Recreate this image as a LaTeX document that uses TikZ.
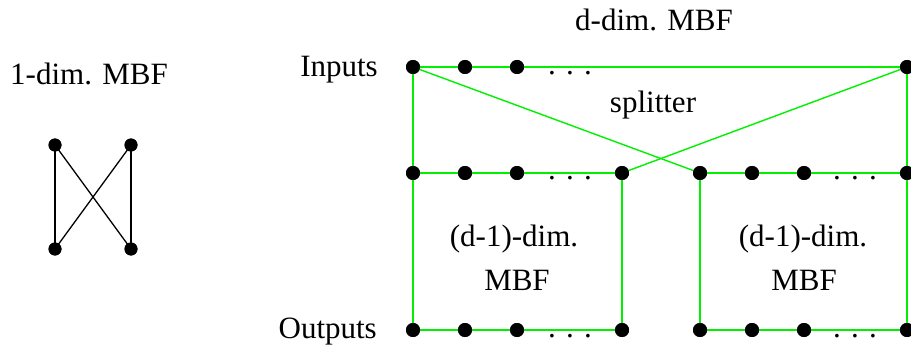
\documentclass[tikz,border=0pt]{standalone}
\usepackage{fontspec}
\setmainfont{Liberation Serif}
\begin{document}
\begin{tikzpicture}[x=1pt,y=-1pt,
  dot/.style={circle,fill=black,inner sep=0pt,minimum size=14pt},
  sdot/.style={circle,fill=black,inner sep=0pt,minimum size=13pt},
  lbl/.style={inner sep=0pt,anchor=base,font=\fontsize{31}{37}\selectfont},
  ell/.style={inner sep=0pt,anchor=base,font=\fontsize{31}{37}\selectfont},
  gline/.style={draw={rgb,255:red,0;green,240;blue,0},line width=1.4pt},
  bline/.style={draw=black,line width=1.3pt}]
\useasboundingbox (0,0) rectangle (911,350);
% 1-dim MBF
\node[lbl] (t1) at (89,85) {1-dim. MBF};
\node[sdot] (a1) at (55,145) {};
\node[sdot] (a2) at (131,145) {};
\node[sdot] (b1) at (55,249) {};
\node[sdot] (b2) at (131,249) {};
\draw[bline] (a1.center) -- (b1.center);
\draw[bline] (a2.center) -- (b2.center);
\draw[bline] (a1.center) -- (b2.center);
\draw[bline] (a2.center) -- (b1.center);
% d-dim MBF
\node[lbl] (td) at (654,31) {d-dim. MBF};
\node[lbl,anchor=base east] (inp) at (378,77) {Inputs};
\node[lbl,anchor=base east] (outp) at (377,338) {Outputs};
\node[lbl] (spl) at (653,113) {splitter};
\node[lbl] (l1) at (514,246) {(d-1)-dim.};
\node[lbl] (l2) at (517,290) {MBF};
\node[lbl] (r1) at (803,246) {(d-1)-dim.};
\node[lbl] (r2) at (804,290) {MBF};
% top row
\node[dot] (i1) at (413,67) {};
\node[dot] (i2) at (465,67) {};
\node[dot] (i3) at (517,67) {};
\node[dot] (i4) at (907,67) {};
% middle row
\node[dot] (m1) at (413,173) {};
\node[dot] (m2) at (465,173) {};
\node[dot] (m3) at (517,173) {};
\node[dot] (m4) at (622,173) {};
\node[dot] (n1) at (700,173) {};
\node[dot] (n2) at (752,173) {};
\node[dot] (n3) at (804,173) {};
\node[dot] (n4) at (907,173) {};
% bottom row
\node[dot] (o1) at (413,330) {};
\node[dot] (o2) at (465,330) {};
\node[dot] (o3) at (517,330) {};
\node[dot] (o4) at (622,330) {};
\node[dot] (p1) at (700,330) {};
\node[dot] (p2) at (752,330) {};
\node[dot] (p3) at (804,330) {};
\node[dot] (p4) at (907,330) {};
% ellipses
\node[ell] (e1) at (570,74.5) {.\,\,.\,\,.};
\node[ell] (e2) at (570,180) {.\,\,.\,\,.};
\node[ell] (e3) at (855,180) {.\,\,.\,\,.};
\node[ell] (e4) at (570,337) {.\,\,.\,\,.};
\node[ell] (e5) at (855,337) {.\,\,.\,\,.};
% green lines
\draw[gline] (i1.center) -- (i4.center);
\draw[gline] (i1.center) -- (o1.center);
\draw[gline] (i4.center) -- (p4.center);
\draw[gline] (i1.center) -- (n1.center);
\draw[gline] (i4.center) -- (m4.center);
\draw[gline] (m1.center) -- (m4.center);
\draw[gline] (n1.center) -- (n4.center);
\draw[gline] (o1.center) -- (o4.center);
\draw[gline] (p1.center) -- (p4.center);
\draw[gline] (m4.center) -- (o4.center);
\draw[gline] (n1.center) -- (p1.center);
% redraw dots on top
\foreach \n in {i1,i2,i3,i4,m1,m2,m3,m4,n1,n2,n3,n4,o1,o2,o3,o4,p1,p2,p3,p4}
  \fill (\n) circle (7pt);
\foreach \n in {a1,a2,b1,b2}
  \fill (\n) circle (6.5pt);
\end{tikzpicture}
\end{document}
